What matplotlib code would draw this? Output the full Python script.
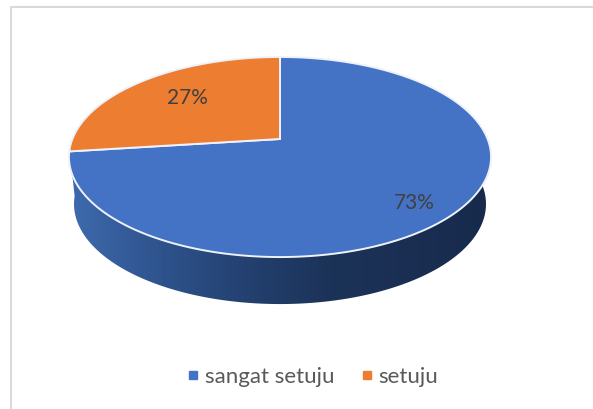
import numpy as np
import matplotlib
matplotlib.use('Agg')
import matplotlib.pyplot as plt
from matplotlib.colors import LinearSegmentedColormap
from matplotlib.lines import Line2D
from matplotlib.patches import Polygon

categories = ['sangat setuju', 'setuju']
values = [73, 27]
colors = ['#4472C4', '#ED7D31']

plt.rcParams['font.family'] = ['Lato', 'DejaVu Sans']

fig = plt.figure(figsize=(5.93, 4.10), dpi=100)
ax = fig.add_axes([0, 0, 1, 1])
ax.set_xlim(0, 593)
ax.set_ylim(410, 0)
ax.axis('off')

# pie geometry in pixels, tilted with a small perspective
cx, cy = 280, 140
rx, ry = 207.6, 96.8
k = 0.18
depth = 47
bottom_scale = 0.976


def project(theta):
    x, y = np.cos(theta), np.sin(theta)
    s = 1 / (1 + k * y)
    return cx + rx * x * s, cy - ry * y * s


# frame of the chart area, only left and top are in the crop
ax.plot([11, 11, 593], [410, 8, 8], color='#d9d9d9', lw=1.5, zorder=1)

# side wall with the dark gradient, the lower rim is a bit narrower
t = np.linspace(np.radians(186), np.radians(360 + 2), 300)
xs, ys = project(t)
xb = cx + (xs - cx) * bottom_scale
side = np.column_stack([np.r_[xs, xb[::-1]], np.r_[ys, ys[::-1] + depth]])
side_patch = Polygon(side, closed=True, fc='none', ec='none', transform=ax.transData)
ax.add_patch(side_patch)
side_cmap = LinearSegmentedColormap.from_list(
    'side', [(0, '#3E6BAE'), (0.1, '#375F9E'), (0.25, '#2C5088'), (0.45, '#223E6C'),
             (0.62, '#1C3358'), (1, '#172A4C')])
im = ax.imshow(np.linspace(0, 1, 256)[None, :], cmap=side_cmap, aspect='auto',
               extent=(69, 491, 320, 140), zorder=2)
im.set_clip_path(side_patch)
ax.set_xlim(0, 593)
ax.set_ylim(410, 0)

# top face, first slice starts at 12 o'clock and runs clockwise
start = np.pi / 2
for val, col in zip(values, colors):
    sweep = 2 * np.pi * val / sum(values)
    t = np.linspace(start, start - sweep, 240)
    xs, ys = project(t)
    pts = np.column_stack([np.r_[cx, xs], np.r_[cy, ys]])
    ax.add_patch(Polygon(pts, closed=True, fc=col, ec='#eef2fa', lw=1.4, zorder=3,
                         joinstyle='miter'))
    start -= sweep

# percent labels
label_pos = [(414, 203), (187, 98)]
for val, (lx, ly) in zip(values, label_pos):
    ax.text(lx, ly, f'{val}%', color='#404040', fontsize=15, ha='center', va='center', zorder=4)

# legend
handles = [Line2D([], [], ls='none', marker='s', ms=5.7, color=c) for c in colors]
leg = ax.legend(handles, categories, ncol=2, loc='center', bbox_to_anchor=(310 / 593, 1 - 377.5 / 410),
                frameon=False, fontsize=16, labelcolor='#595959', handletextpad=0.05,
                columnspacing=0.95, handlelength=1.0)

fig.savefig('out.png', dpi=100)
